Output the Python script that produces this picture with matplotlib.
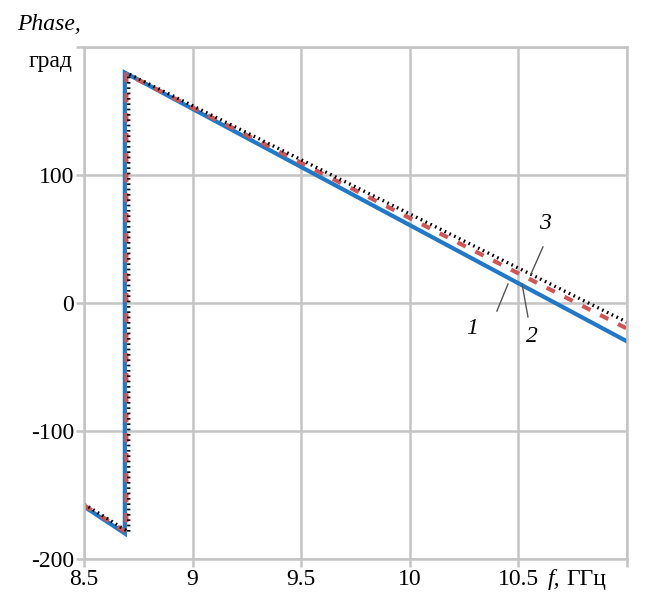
import numpy as np
import matplotlib.pyplot as plt

# данные: частота (ГГц) и фаза (град) для трёх кривых
f1 = [8.5, 8.688, 8.688, 11.0]
ph1 = [-159, -180, 180, -30]
f2 = [8.5, 8.695, 8.695, 11.0]
ph2 = [-158, -179, 179, -20]
f3 = [8.5, 8.706, 8.706, 11.0]
ph3 = [-157, -179, 179, -15]

xticks = [8.5, 9, 9.5, 10, 10.5, 11]
xlabels = ['8.5', '9', '9.5', '10', '10.5', '']
yticks = [-200, -100, 0, 100, 200]
ylabels = ['-200', '-100', '0', '100', '']

plt.rcParams['font.family'] = ['Liberation Serif', 'DejaVu Serif']

fig = plt.figure(figsize=(6.47, 6.02), dpi=100)
ax = fig.add_axes([84/647, 1-559/602, (627-84)/647, (559-47)/602])

ax.plot(f1, ph1, color='#1f78c8', lw=3, solid_joinstyle='miter')
ax.plot(f2, ph2, color='#d05555', lw=3, ls=(0, (2.2, 2.6)))
ax.plot(f3, ph3, color='black', lw=2.4, ls=(0, (0.5, 1.1)))

ax.set_xlim(8.5, 11)
ax.set_ylim(-200, 200)
ax.set_xticks(xticks)
ax.set_xticklabels(xlabels)
ax.set_yticks(yticks)
ax.set_yticklabels(ylabels)
ax.grid(True, color='#c4c4c4', lw=1.8)
ax.set_axisbelow(True)
for s in ax.spines.values():
    s.set_color('#c4c4c4')
    s.set_linewidth(1.8)
ax.tick_params(colors='#c4c4c4', labelcolor='black', labelsize=17,
               length=6, width=1.8, pad=1)

# подписи кривых
ax.plot([10.401, 10.452], [-6.3, 14.8], color='#555555', lw=1)
ax.plot([10.517, 10.544], [14.8, -10.9], color='#555555', lw=1)
ax.plot([10.613, 10.558], [43.8, 22.7], color='#555555', lw=1)
ax.text(10.286, -20, '1', style='italic', fontsize=17, ha='center', va='center')
ax.text(10.563, -26, '2', style='italic', fontsize=17, ha='center', va='center')
ax.text(10.622, 62, '3', style='italic', fontsize=17, ha='center', va='center')

# подписи осей
fig.text(17/647, 1-25/602, 'Phase,', style='italic', fontsize=17, ha='left', va='center')
fig.text(72/647, 1-61/602, 'град', fontsize=17, ha='right', va='center')
fig.text(548/647, 1-580/602, 'f,', style='italic', fontsize=17, ha='left', va='center')
fig.text(566/647, 1-580/602, 'ГГц', fontsize=17, ha='left', va='center')

fig.savefig('out.png', dpi=100)
